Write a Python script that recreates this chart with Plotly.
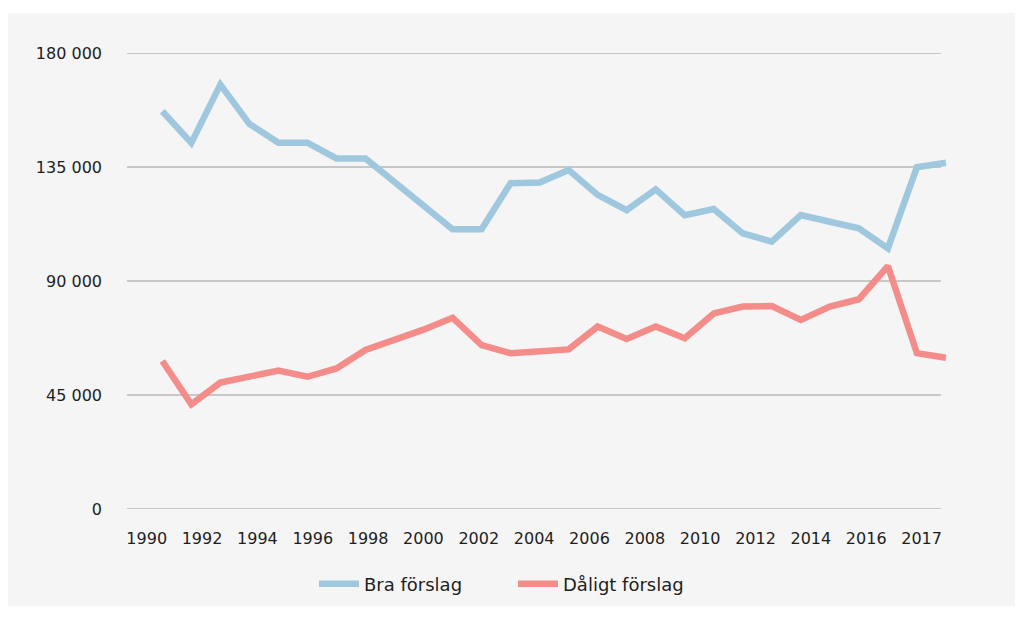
import numpy as np
import plotly.graph_objects as go

years = list(range(1990, 2018))
bra_forslag = [157000, 144500, 167500, 152000, 144600, 144600, 138400, 138400,
               129100, 119700, 110400, 110400, 128600, 128900, 133800, 124000,
               118000, 126200, 116000, 118400, 108800, 105500, 116000, 113400,
               110800, 102900, 134900, 136700]
daligt_forslag = [58400, 41300, 49900, 52300, 54600, 52200, 55500, 62800,
                  66600, 70800, 75500, 64700, 61500, 62200, 63000, 72000,
                  67100, 72000, 67400, 77200, 79900, 80100, 74600, 79900,
                  82800, 95900, 61500, 59700]
tick_labels = ["1990", "1992", "1994", "1996", "1998", "2000", "2002", "2004",
               "2006", "2008", "2010", "2012", "2014", "2016", "2017"]
y_ticks = [0, 45000, 90000, 135000, 180000]
y_tick_text = ["0", "45 000", "90 000", "135 000", "180 000"]

idx = np.arange(len(years))
FONT = "DejaVu Sans"
BLUE = "#9fc8df"
RED = "#f48c89"

fig = go.Figure()
fig.add_trace(go.Scatter(x=idx, y=bra_forslag, mode="lines", name="Bra förslag",
                         line=dict(color=BLUE, width=6.5), customdata=years))
fig.add_trace(go.Scatter(x=idx, y=daligt_forslag, mode="lines", name="Dåligt förslag",
                         line=dict(color=RED, width=6.5), customdata=years))

shapes = [dict(type="rect", xref="paper", yref="paper", x0=-0.1446, x1=1.1,
               y0=-0.2127, y1=1.0877, fillcolor="#f5f5f5", line=dict(width=0),
               layer="below")]
for v in y_ticks:
    shapes.append(dict(type="line", xref="paper", yref="y", x0=0, x1=0.989,
                       y0=v, y1=v, line=dict(color="#9a9a9a", width=1), layer="below"))

tick_pos = np.linspace(-0.537, 26.16, len(tick_labels))

fig.update_layout(
    width=1023, height=617,
    margin=dict(l=119, r=81, t=45, b=116),
    paper_bgcolor="white", plot_bgcolor="rgba(0,0,0,0)",
    font=dict(family=FONT, size=16, color="#1e1e1e"),
    shapes=shapes,
    showlegend=True,
    legend=dict(orientation="h", x=0.2272, xanchor="left", y=-0.1645, yanchor="middle",
                font=dict(size=18, color="#1e1e1e"), bgcolor="rgba(0,0,0,0)",
                itemwidth=40, entrywidth=144),
    xaxis=dict(range=[-1.216, 27.14], showgrid=False, zeroline=False, showline=False,
               tickmode="array", tickvals=tick_pos, ticktext=tick_labels,
               ticks="", ticklabelstandoff=18, fixedrange=True),
    yaxis=dict(range=[0, 180000], showgrid=False, zeroline=False, showline=False,
               tickmode="array", tickvals=y_ticks, ticktext=y_tick_text,
               ticks="", ticklabelstandoff=24, fixedrange=True),
)

fig.write_html("out.html")
